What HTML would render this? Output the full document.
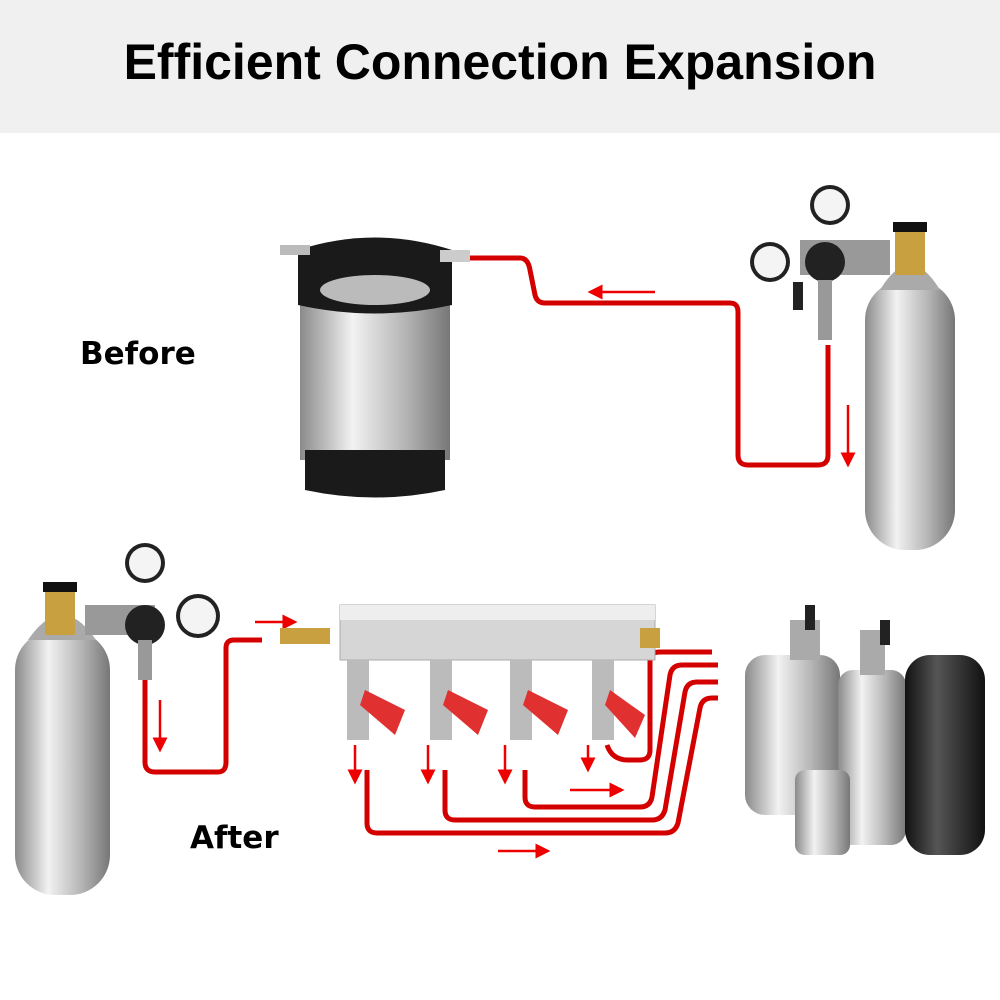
<!DOCTYPE html>
<html><head><meta charset="utf-8"><style>
body{margin:0;width:1000px;height:1000px;background:#fff;overflow:hidden;font-family:"Liberation Sans",sans-serif}
.hdr{position:absolute;left:0;top:0;width:1000px;height:133px;background:#f0f0f0}
.t{position:absolute;left:0;width:1000px;top:33px;text-align:center;font-weight:bold;font-size:50px;color:#000}
.l{position:absolute;font-weight:bold;font-size:31px;color:#000;font-family:"DejaVu Sans",sans-serif}
</style></head><body>
<div class="hdr"></div><div class="t">Efficient Connection Expansion</div>
<div class="l" style="left:80px;top:336px">Before</div>
<div class="l" style="left:190px;top:820px">After</div>
<svg width="1000" height="1000" style="position:absolute;left:0;top:0">
<defs>
<linearGradient id="s" x1="0" x2="1"><stop offset="0" stop-color="#8a8a8a"/><stop offset=".35" stop-color="#f2f2f2"/><stop offset=".7" stop-color="#b5b5b5"/><stop offset="1" stop-color="#777"/></linearGradient>
<linearGradient id="b" x1="0" x2="1"><stop offset="0" stop-color="#111"/><stop offset=".4" stop-color="#555"/><stop offset="1" stop-color="#111"/></linearGradient>
<marker id="a" markerWidth="6" markerHeight="6" refX="5" refY="3" orient="auto"><path d="M0,0L6,3L0,6z" fill="#e00"/></marker>
</defs>
<g fill="none" stroke="#d40000" stroke-width="5" stroke-linejoin="round">
<path d="M470,258 H520 Q528,258 530,270 L535,295 Q537,303 545,303 H730 Q738,303 738,312 V455 Q738,465 748,465 H818 Q828,465 828,455 V345"/>
<path d="M145,680 V762 Q145,772 155,772 H218 Q226,772 226,762 V648 Q226,640 234,640 H262"/>
<path d="M367,770 V823 Q367,833 377,833 H665 Q675,833 678,823 L700,708 Q702,698 712,698 H718"/>
<path d="M445,770 V810 Q445,820 455,820 H652 Q662,820 665,810 L685,692 Q687,682 697,682 H718"/>
<path d="M525,770 V797 Q525,807 535,807 H640 Q650,807 652,797 L670,675 Q672,665 682,665 H718"/>
<path d="M607,745 Q612,760 628,760 H640 Q650,760 650,750 V660 Q650,652 660,652 H712"/>
</g>
<g stroke="#e00" stroke-width="2.5" marker-end="url(#a)">
<line x1="655" y1="292" x2="590" y2="292"/><line x1="848" y1="405" x2="848" y2="465"/>
<line x1="160" y1="700" x2="160" y2="750"/><line x1="255" y1="622" x2="295" y2="622"/>
<line x1="355" y1="745" x2="355" y2="782"/><line x1="428" y1="745" x2="428" y2="782"/>
<line x1="505" y1="745" x2="505" y2="782"/><line x1="588" y1="745" x2="588" y2="770"/>
<line x1="570" y1="790" x2="622" y2="790"/><line x1="498" y1="851" x2="548" y2="851"/>
</g>
<rect x="300" y="300" width="150" height="160" fill="url(#s)"/>
<path d="M298,250 Q375,225 452,250 V305 Q375,322 298,305z" fill="#1a1a1a"/>
<ellipse cx="375" cy="290" rx="55" ry="15" fill="#bbb"/>
<path d="M305,450 H445 V490 Q375,505 305,490z" fill="#1a1a1a"/>
<rect x="280" y="245" width="30" height="10" fill="#bbb"/><rect x="440" y="250" width="30" height="12" fill="#ccc"/>
<rect x="865" y="280" width="90" height="270" rx="40" fill="url(#s)"/>
<path d="M880,290 Q910,240 940,290z" fill="#aaa"/>
<rect x="895" y="230" width="30" height="45" fill="#c8a040"/><rect x="893" y="222" width="34" height="10" fill="#111"/>
<rect x="800" y="240" width="90" height="35" fill="#999"/>
<circle cx="830" cy="205" r="20" fill="#222"/><circle cx="830" cy="205" r="16" fill="#f4f4f4"/>
<circle cx="770" cy="262" r="20" fill="#222"/><circle cx="770" cy="262" r="16" fill="#f4f4f4"/>
<circle cx="825" cy="262" r="20" fill="#222"/>
<rect x="818" y="280" width="14" height="60" fill="#999"/><rect x="793" y="282" width="10" height="28" fill="#222"/>
<rect x="15" y="630" width="95" height="265" rx="40" fill="url(#s)"/>
<path d="M28,640 Q62,590 96,640z" fill="#aaa"/>
<rect x="45" y="590" width="30" height="45" fill="#c8a040"/><rect x="43" y="582" width="34" height="10" fill="#111"/>
<rect x="85" y="605" width="70" height="30" fill="#999"/>
<circle cx="145" cy="563" r="20" fill="#222"/><circle cx="145" cy="563" r="16" fill="#f4f4f4"/>
<circle cx="198" cy="616" r="22" fill="#222"/><circle cx="198" cy="616" r="18" fill="#f4f4f4"/>
<circle cx="145" cy="625" r="20" fill="#222"/>
<rect x="138" y="640" width="14" height="40" fill="#999"/>
<rect x="280" y="628" width="50" height="16" fill="#c8a040"/>
<rect x="340" y="605" width="315" height="55" fill="#d6d6d6" stroke="#aaa"/>
<rect x="340" y="605" width="315" height="15" fill="#eee"/>
<rect x="640" y="628" width="20" height="20" fill="#c8a040"/>
<g fill="#bbb">
<rect x="347" y="660" width="22" height="80"/><rect x="430" y="660" width="22" height="80"/><rect x="510" y="660" width="22" height="80"/><rect x="592" y="660" width="22" height="80"/>
</g>
<g fill="#e03030">
<path d="M365,690 L405,710 L395,735 L360,705z"/><path d="M448,690 L488,710 L478,735 L443,705z"/><path d="M528,690 L568,710 L558,735 L523,705z"/><path d="M610,690 L645,715 L635,738 L605,705z"/>
</g>
<rect x="745" y="655" width="95" height="160" rx="20" fill="url(#s)"/>
<rect x="838" y="670" width="68" height="175" rx="15" fill="url(#s)"/>
<rect x="795" y="770" width="55" height="85" rx="10" fill="url(#s)"/>
<rect x="905" y="655" width="80" height="200" rx="25" fill="url(#b)"/>
<rect x="790" y="620" width="30" height="40" fill="#aaa"/><rect x="860" y="630" width="25" height="45" fill="#aaa"/>
<rect x="805" y="605" width="10" height="25" fill="#222"/><rect x="880" y="620" width="10" height="25" fill="#222"/>
</svg>
</body></html>
